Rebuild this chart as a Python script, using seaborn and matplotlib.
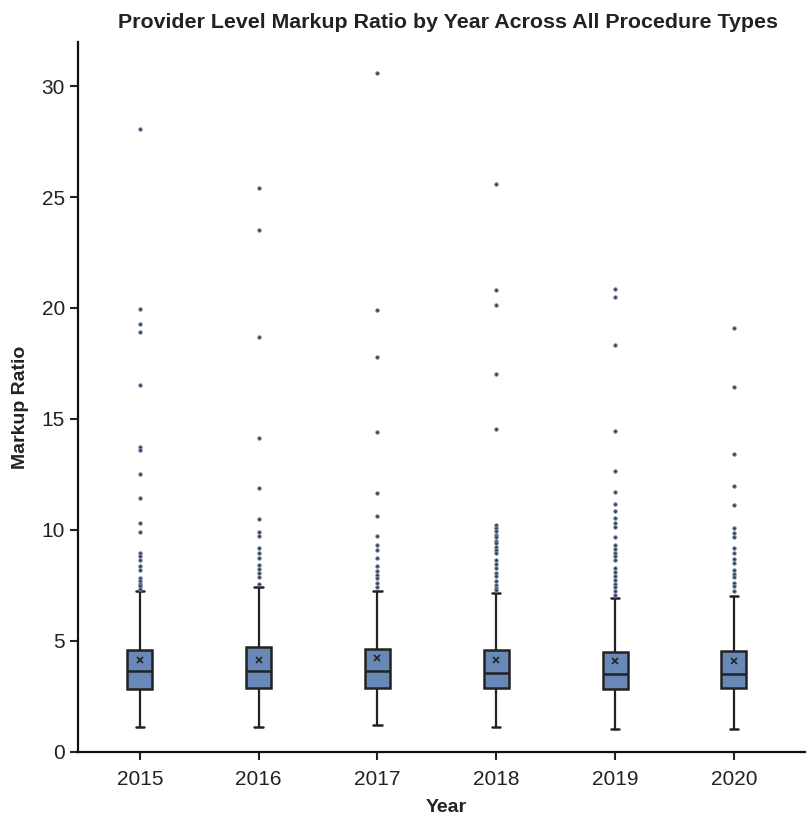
import numpy as np
import pandas as pd
import matplotlib.pyplot as plt
import seaborn as sns

# values
years = ["2015", "2016", "2017", "2018", "2019", "2020"]
whisker_low = [1.13, 1.11, 1.20, 1.11, 1.02, 1.04]
q1 = [2.83, 2.87, 2.87, 2.87, 2.84, 2.87]
median = [3.62, 3.63, 3.62, 3.53, 3.50, 3.50]
q3 = [4.60, 4.72, 4.65, 4.60, 4.51, 4.54]
whisker_high = [7.23, 7.43, 7.24, 7.16, 6.93, 7.04]
means = [4.15, 4.15, 4.23, 4.15, 4.07, 4.09]

outliers = {
    "2015": [28.06, 19.97, 19.26, 18.93, 16.51, 13.74, 13.59, 12.54, 11.43, 10.32,
             9.89, 8.96, 8.81, 8.66, 8.36, 8.18, 7.83, 7.70, 7.58, 7.46, 7.35],
    "2016": [25.40, 23.52, 18.69, 14.12, 11.88, 10.51, 9.89, 9.71, 9.18, 8.96,
             8.73, 8.43, 8.25, 8.06, 7.88, 7.56],
    "2017": [30.58, 19.90, 17.81, 14.43, 11.67, 10.64, 9.72, 9.34, 9.10, 8.71,
             8.39, 8.16, 7.98, 7.82, 7.60, 7.44],
    "2018": [25.58, 20.81, 20.15, 17.04, 14.54, 10.21, 10.07, 9.94, 9.79, 9.66,
             9.52, 9.39, 9.24, 9.11, 8.97, 8.66, 8.48, 8.29, 8.06, 7.91, 7.68,
             7.53, 7.40, 7.30],
    "2019": [20.87, 20.51, 18.33, 14.47, 12.64, 11.70, 11.17, 10.84, 10.55, 10.33,
             10.12, 9.67, 9.34, 9.14, 8.96, 8.81, 8.66, 8.29, 8.11, 7.94, 7.76,
             7.58, 7.43, 7.23, 7.08],
    "2020": [19.08, 16.42, 13.44, 11.97, 11.13, 10.09, 9.86, 9.68, 9.17, 8.96,
             8.69, 8.51, 8.18, 8.03, 7.88, 7.61, 7.46, 7.23],
}

# rebuild a long table whose quartiles / whiskers / fliers give the stats above
# (each quartile value is weighted so the outliers don't shift the box)
WEIGHT = 100
rows = []
for i, yr in enumerate(years):
    vals = [whisker_low[i]] + [q1[i]] * WEIGHT + [median[i]] * WEIGHT + \
           [q3[i]] * WEIGHT + [whisker_high[i]] + outliers[yr]
    rows += [(yr, v) for v in vals]
df = pd.DataFrame(rows, columns=["Year", "Markup Ratio"])

sns.set_style("ticks")
plt.rcParams["font.family"] = ["Liberation Sans", "DejaVu Sans"]

fig = plt.figure(figsize=(8.08, 8.18), dpi=100)
ax = fig.add_axes([0.0965, 0.081, 0.9, 0.868])

box_color = "#6889b7"
edge = "#222222"
sns.boxplot(data=df, x="Year", y="Markup Ratio", order=years, ax=ax,
            color=box_color, width=0.21, linewidth=1.8, linecolor=edge,
            saturation=1, capwidths=0.07,
            flierprops=dict(marker="o", markersize=2.6, markerfacecolor="#2b3f63",
                            markeredgecolor="#8a94a6", markeredgewidth=0.6),
            whiskerprops=dict(color=edge, linewidth=1.6),
            capprops=dict(color=edge, linewidth=1.8),
            medianprops=dict(color=edge, linewidth=1.8))

# mean markers
sns.pointplot(x=years, y=means, order=years, ax=ax, errorbar=None,
              color=edge, marker="x", linestyle="none", markersize=4,
              markeredgewidth=1.2)

ax.set_ylim(0, 32)
ax.set_xlim(-0.52, 5.6)
ax.set_yticks([0, 5, 10, 15, 20, 25, 30])
ax.tick_params(axis="both", labelsize=15, length=6, width=1.5, colors="#222222")
ax.tick_params(axis="x", pad=7)
for s in ["left", "bottom"]:
    ax.spines[s].set_linewidth(1.6)
    ax.spines[s].set_color("#111111")
sns.despine(ax=ax)

ax.set_xlabel("Year", fontsize=14, fontweight="bold", color="#222222")
ax.set_ylabel("Markup Ratio", fontsize=14, fontweight="bold", color="#222222")
ax.xaxis.set_label_coords(0.507, -0.066)
ax.yaxis.set_label_coords(-0.068, 0.485)
ax.set_title("Provider Level Markup Ratio by Year Across All Procedure Types",
             fontsize=15.4, fontweight="bold", color="#222222", pad=10, x=0.509)

fig.savefig("out.png", dpi=100)
